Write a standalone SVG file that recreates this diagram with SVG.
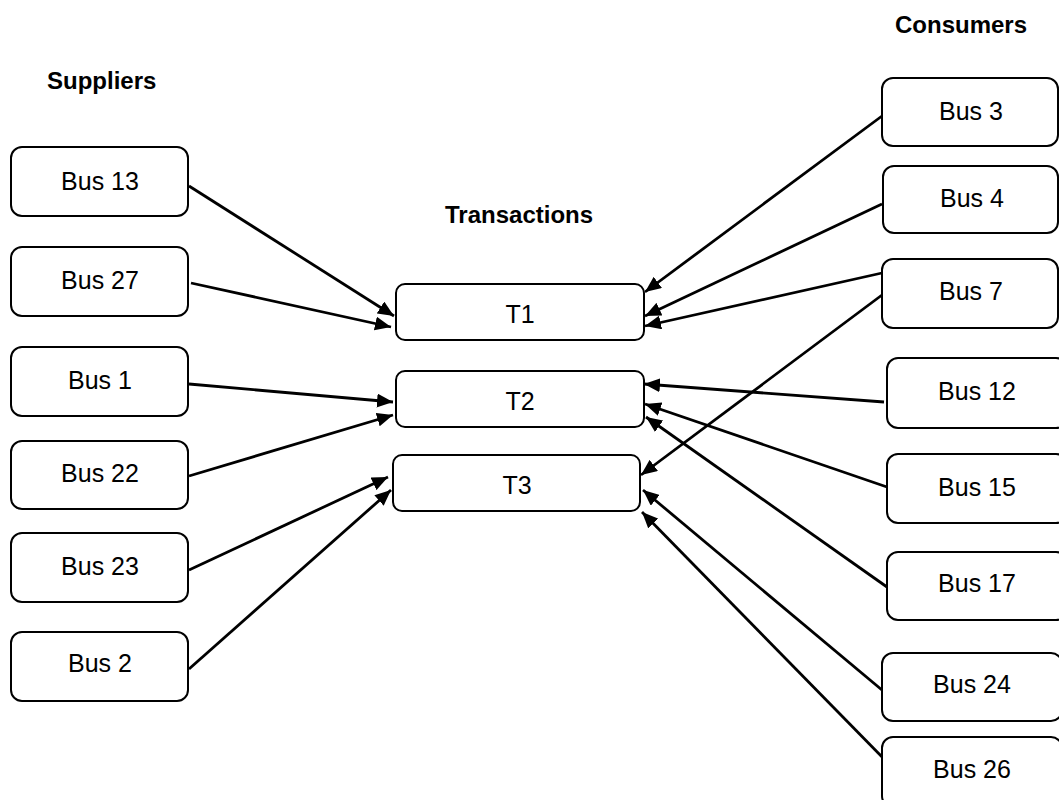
<svg xmlns="http://www.w3.org/2000/svg" width="1059" height="800" viewBox="0 0 1059 800">
  <style>
    .box { fill: #ffffff; stroke: #000000; stroke-width: 2; }
    .lbl { font-family: "Liberation Sans", Arial, sans-serif; font-size: 25px; fill: #000000; text-anchor: middle; }
    .hdr { font-family: "Liberation Sans", Arial, sans-serif; font-size: 24px; font-weight: bold; fill: #000000; }
    .edge { stroke: #000000; stroke-width: 2.8; fill: none; marker-end: url(#arrow); }
  </style>
  <defs>
    <marker id="arrow" markerUnits="userSpaceOnUse" markerWidth="18" markerHeight="14" refX="16" refY="7" orient="auto">
      <path d="M0,0 L16,7 L0,14 z" fill="#000000"/>
    </marker>
  </defs>
  <rect width="1059" height="800" fill="#ffffff"/>

  <!-- column headings -->
  <text class="hdr" x="47" y="89">Suppliers</text>
  <text class="hdr" x="445" y="223">Transactions</text>
  <text class="hdr" x="895" y="33">Consumers</text>

  <!-- connectors -->
  <g id="connectors">
    <line class="edge" x1="189" y1="186" x2="394" y2="316"/>
    <line class="edge" x1="191" y1="283" x2="391" y2="327"/>
    <line class="edge" x1="189" y1="384" x2="393" y2="402"/>
    <line class="edge" x1="189" y1="476" x2="393" y2="415"/>
    <line class="edge" x1="189" y1="570" x2="388" y2="477"/>
    <line class="edge" x1="189" y1="669" x2="391" y2="490"/>

    <line class="edge" x1="882" y1="116" x2="645" y2="292"/>
    <line class="edge" x1="882" y1="204" x2="645" y2="316"/>
    <line class="edge" x1="882" y1="273" x2="645" y2="326"/>
    <line class="edge" x1="882" y1="295" x2="641" y2="475"/>
    <line class="edge" x1="884" y1="402" x2="644" y2="384"/>
    <line class="edge" x1="887" y1="487" x2="645" y2="404"/>
    <line class="edge" x1="887" y1="587" x2="646" y2="417"/>
    <line class="edge" x1="882" y1="690" x2="643" y2="490"/>
    <line class="edge" x1="888" y1="763" x2="642" y2="512"/>
  </g>

  <!-- suppliers -->
  <g id="bus13"><rect class="box" x="11" y="147" width="177" height="69" rx="11"/><text class="lbl" x="100" y="190">Bus 13</text></g>
  <g id="bus27"><rect class="box" x="11" y="247" width="177" height="69" rx="11"/><text class="lbl" x="100" y="289">Bus 27</text></g>
  <g id="bus1"><rect class="box" x="11" y="347" width="177" height="69" rx="11"/><text class="lbl" x="100" y="389">Bus 1</text></g>
  <g id="bus22"><rect class="box" x="11" y="441" width="177" height="68" rx="11"/><text class="lbl" x="100" y="482">Bus 22</text></g>
  <g id="bus23"><rect class="box" x="11" y="533" width="177" height="69" rx="11"/><text class="lbl" x="100" y="575">Bus 23</text></g>
  <g id="bus2"><rect class="box" x="11" y="632" width="177" height="69" rx="11"/><text class="lbl" x="100" y="672">Bus 2</text></g>

  <!-- transactions -->
  <g id="t1"><rect class="box" x="396" y="284" width="248" height="56" rx="9"/><text class="lbl" x="520" y="323">T1</text></g>
  <g id="t2"><rect class="box" x="396" y="371" width="248" height="56" rx="9"/><text class="lbl" x="520" y="410">T2</text></g>
  <g id="t3"><rect class="box" x="393" y="455" width="247" height="56" rx="9"/><text class="lbl" x="517" y="494">T3</text></g>

  <!-- consumers -->
  <g id="bus3"><rect class="box" x="882" y="78" width="176" height="68" rx="11"/><text class="lbl" x="971" y="120">Bus 3</text></g>
  <g id="bus4"><rect class="box" x="883" y="166" width="175" height="67" rx="11"/><text class="lbl" x="972" y="207">Bus 4</text></g>
  <g id="bus7"><rect class="box" x="882" y="259" width="176" height="69" rx="11"/><text class="lbl" x="971" y="300">Bus 7</text></g>
  <g id="bus12"><rect class="box" x="887" y="358" width="180" height="70" rx="11"/><text class="lbl" x="977" y="400">Bus 12</text></g>
  <g id="bus15"><rect class="box" x="887" y="454" width="180" height="69" rx="11"/><text class="lbl" x="977" y="496">Bus 15</text></g>
  <g id="bus17"><rect class="box" x="887" y="552" width="180" height="68" rx="11"/><text class="lbl" x="977" y="592">Bus 17</text></g>
  <g id="bus24"><rect class="box" x="882" y="653" width="180" height="68" rx="11"/><text class="lbl" x="972" y="693">Bus 24</text></g>
  <g id="bus26"><rect class="box" x="882" y="737" width="180" height="70" rx="11"/><text class="lbl" x="972" y="778">Bus 26</text></g>
</svg>
